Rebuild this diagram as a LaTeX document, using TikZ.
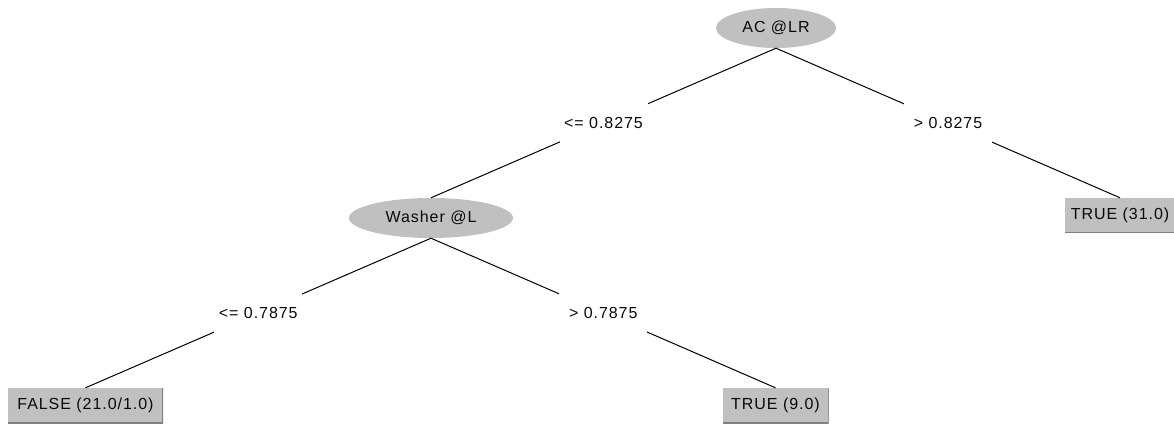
\documentclass[tikz,border=0pt]{standalone}
\usepackage{fontspec}
\setmainfont{Liberation Sans}[LetterSpace=6]
\usetikzlibrary{shapes.geometric}
\definecolor{nodegray}{RGB}{192,192,192}
\definecolor{edgegray}{RGB}{128,128,128}
\definecolor{txt}{RGB}{10,10,10}
\begin{document}
\begin{tikzpicture}[x=1pt,y=-1pt,
  every node/.style={font=\fontsize{16}{19}\selectfont, text=txt},
  split/.style={ellipse, fill=nodegray, inner sep=0pt, minimum height=40pt},
  leaf/.style={rectangle, fill=nodegray, inner sep=0pt, minimum height=35pt,
    path picture={\draw[edgegray, line width=1.2pt]
      (path picture bounding box.north east) -- (path picture bounding box.south east)
      -- (path picture bounding box.south west);}},
  cond/.style={fill=white, inner sep=0pt, minimum width=88pt, minimum height=40pt},
  edge/.style={draw=black, line width=1pt}]
\useasboundingbox (0,0) rectangle (1174,427);
\node[split, minimum width=120pt] (ac) at (776,28) {AC @LR};
\node[split, minimum width=164pt] (wa) at (431,218) {Washer @L};
\node[leaf, minimum width=110pt] (t31) at (1120,215.5) {TRUE (31.0)};
\node[leaf, minimum width=155pt] (f21) at (85.5,405.5) {FALSE (21.0/1.0)};
\node[leaf, minimum width=106pt] (t9) at (775.5,405.5) {TRUE (9.0)};
\draw[edge] (ac.south) -- node[cond] (c1) {<= 0.8275} (wa.north);
\draw[edge] (ac.south) -- node[cond] (c2) {> 0.8275} (t31.north);
\draw[edge] (wa.south) -- node[cond] (c3) {<= 0.7875} (f21.north);
\draw[edge] (wa.south) -- node[cond] (c4) {> 0.7875} (t9.north);
\end{tikzpicture}
\end{document}
